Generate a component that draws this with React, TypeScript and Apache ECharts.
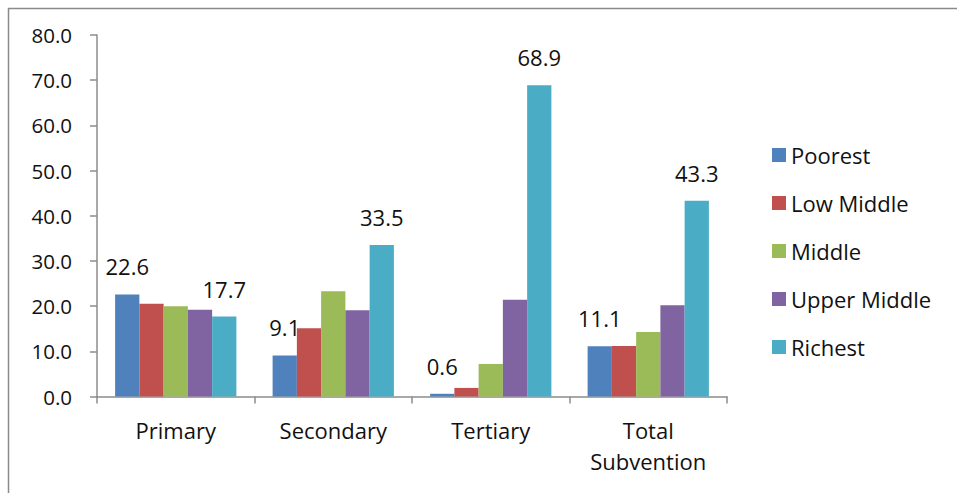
import React, { useEffect, useRef } from "react";
import * as echarts from "echarts";

const categories = ["Primary", "Secondary", "Tertiary", "Total\nSubvention"];
const seriesNames = ["Poorest", "Low Middle", "Middle", "Upper Middle", "Richest"];
const poorest = [22.6, 9.1, 0.6, 11.1];
const lowMiddle = [20.5, 15.1, 1.9, 11.2];
const middle = [20.0, 23.3, 7.2, 14.3];
const upperMiddle = [19.2, 19.1, 21.4, 20.2];
const richest = [17.7, 33.5, 68.9, 43.3];
const colors = ["#4F81BD", "#C0504D", "#9BBB59", "#8064A2", "#4BACC6"];
// only the extreme quintiles carry value labels
const labelled = [true, false, false, false, true];

const FONT = "'Open Sans', 'Noto Sans', sans-serif";

export default function App() {
  const ref = useRef<HTMLDivElement>(null);

  useEffect(() => {
    document.body.style.margin = "0";
    if (!ref.current) return;
    const chart = echarts.init(ref.current, null, { renderer: "svg" });
    const values = [poorest, lowMiddle, middle, upperMiddle, richest];

    chart.setOption({
      animation: false,
      backgroundColor: "#ffffff",
      textStyle: { fontFamily: FONT },
      color: colors,
      grid: { left: 97, right: 230, top: 35, bottom: 96.5, containLabel: false },
      graphic: [
        {
          type: "rect",
          shape: { x: 8.5, y: 8.5, width: 1200, height: 1200 },
          style: { fill: "none", stroke: "#8a8a8a", lineWidth: 1.5 },
          silent: true,
        },
      ],
      legend: {
        orient: "vertical",
        left: 767,
        top: 139,
        itemWidth: 14,
        itemHeight: 14,
        itemGap: 26,
        icon: "rect",
        data: seriesNames,
        textStyle: { fontFamily: FONT, fontSize: 22, color: "#111", lineHeight: 22 },
      },
      xAxis: {
        type: "category",
        data: categories,
        axisLine: { lineStyle: { color: "#8c8c8c", width: 1.5 } },
        axisTick: { show: true, length: 7, lineStyle: { color: "#8c8c8c", width: 1.5 } },
        axisLabel: {
          fontFamily: FONT,
          fontSize: 22,
          color: "#111",
          lineHeight: 31,
          margin: 18,
          interval: 0,
        },
      },
      yAxis: {
        type: "value",
        min: 0,
        max: 80,
        interval: 10,
        splitLine: { show: false },
        axisLine: { show: true, lineStyle: { color: "#8c8c8c", width: 1.5 } },
        axisTick: { show: true, length: 7, lineStyle: { color: "#8c8c8c", width: 1.5 } },
        axisLabel: {
          fontFamily: FONT,
          fontSize: 20.5,
          color: "#111",
          margin: 25,
          formatter: (v: number) => v.toFixed(1),
        },
      },
      series: seriesNames.map((name, i) => ({
        name,
        type: "bar",
        data: values[i],
        barGap: "0%",
        barCategoryGap: "23%",
        itemStyle: { color: colors[i] },
        label: {
          show: labelled[i],
          position: "top",
          distance: 17,
          fontFamily: FONT,
          fontSize: 22,
          color: "#111",
          formatter: (p: any) => Number(p.value).toFixed(1),
        },
      })),
    });

    return () => chart.dispose();
  }, []);

  return <div ref={ref} style={{ width: 957, height: 493 }} />;
}
